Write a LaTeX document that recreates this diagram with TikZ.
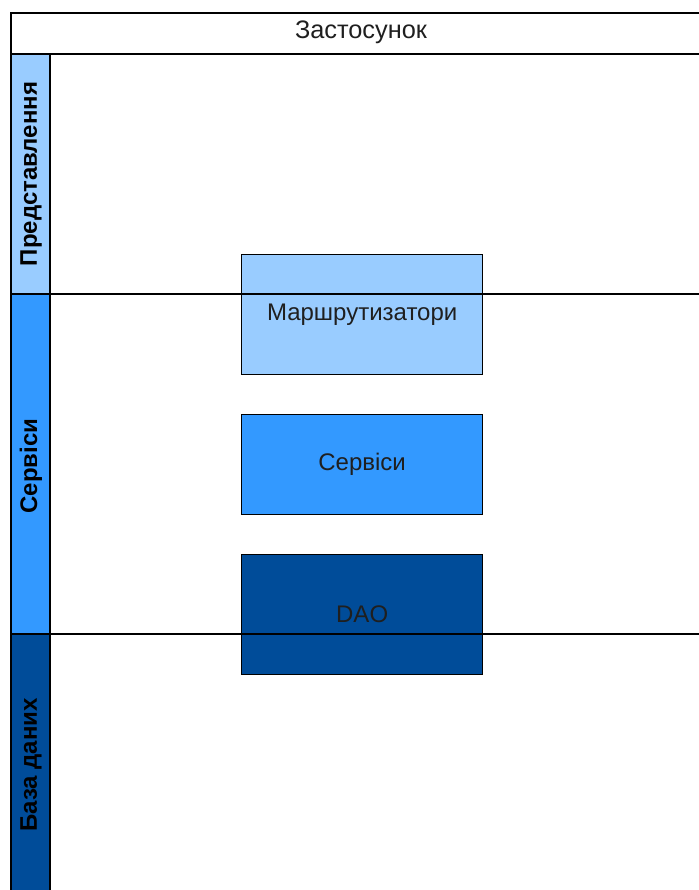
\documentclass[tikz,border=0pt]{standalone}
\usepackage{fontspec}
\setmainfont{Liberation Sans}
\definecolor{lanelight}{HTML}{99CCFF}
\definecolor{lanemid}{HTML}{3399FF}
\definecolor{lanedark}{HTML}{004C99}
\definecolor{inktext}{HTML}{1F1F1F}
\tikzstyle{lane line}=[black, line width=1pt]
\tikzstyle{lane label}=[rotate=90, font=\bfseries\fontsize{18}{20}\selectfont, text=black]
\tikzstyle{layer box}=[draw=black, line width=1pt, text=inktext, font=\fontsize{18}{20}\selectfont,
  minimum width=180.75pt, anchor=north west, inner sep=0pt]
\begin{document}
\begin{tikzpicture}[x=0.75pt, y=-0.75pt]
  \useasboundingbox (0,0) rectangle (699,890);
  \clip (0,0) rectangle (699,890);
    \fill[white] (0,0) rectangle (699,890);
    % header of the pool
    \draw[lane line] (11,13) rectangle (720,54);
    \node[font=\fontsize{19}{21}\selectfont, text=inktext] (app) at (361,32) {Застосунок};
    % lane heads
    \foreach \top/\bot/\col in {54/294/lanelight, 294/634/lanemid, 634/900/lanedark} {
      \filldraw[fill=\col, draw=black, line width=1pt] (11,\top) rectangle (50,\bot);
    }
    \node[lane label] (presentation) at (31,174) {Представлення};
    \node[lane label] (services) at (31,466) {Сервіси};
    \node[lane label] (database) at (31,765) {База даних};
    % layers
    \node[layer box, fill=lanelight, minimum height=90pt] (routers) at (241,254) {Маршрутизатори};
    \node[layer box, fill=lanemid, minimum height=75pt] (servicebox) at (241,414) {Сервіси};
    \node[layer box, fill=lanedark, minimum height=90pt] (dao) at (241,554) {DAO};
    % lane borders drawn over the boxes
    \draw[lane line] (11,54) -- (720,54);
    \draw[lane line] (11,294) -- (720,294);
    \draw[lane line] (11,634) -- (720,634);
    \draw[lane line] (11,13) -- (11,900);
    \draw[lane line] (50,54) -- (50,900);
\end{tikzpicture}
\end{document}
